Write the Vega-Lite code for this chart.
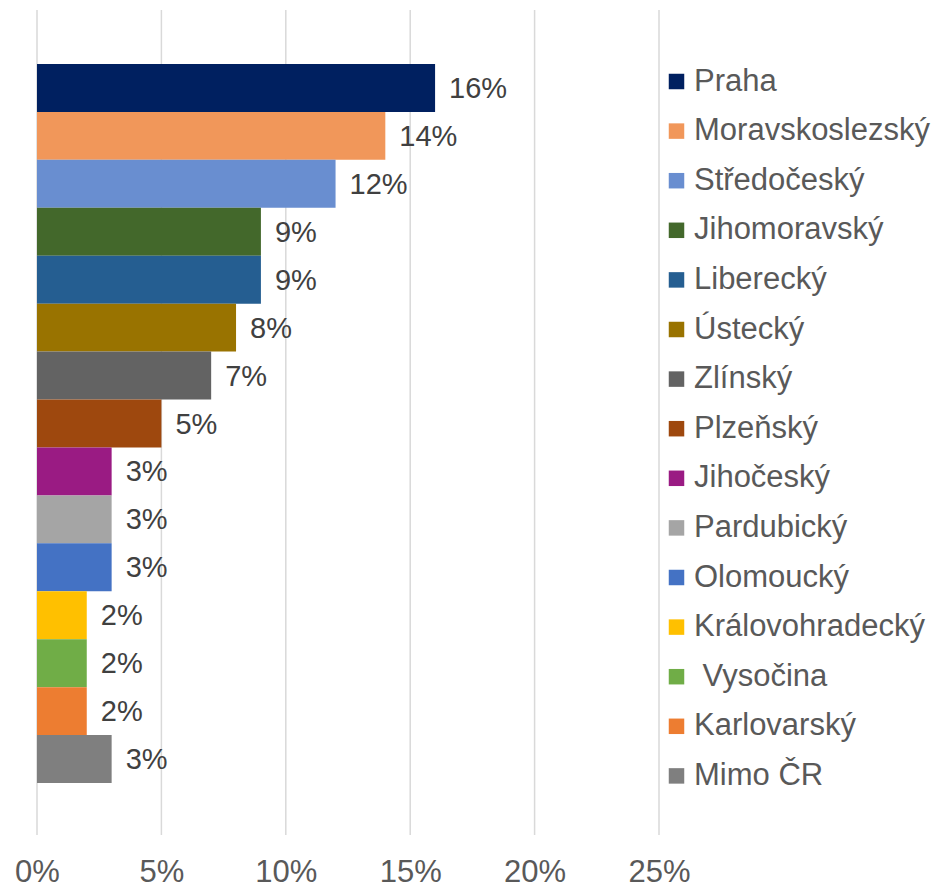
{
  "$schema": "https://vega.github.io/schema/vega-lite/v6.json",
  "autosize": "none",
  "width": 622,
  "height": 825,
  "padding": {"left": 37, "top": 10, "right": 282, "bottom": 52},
  "background": "white",
  "config": {
    "view": {"stroke": null},
    "font": "Liberation Sans"
  },
  "data": {
    "values": [
      {"kraj": "Praha", "podil": 0.16},
      {"kraj": "Moravskoslezský", "podil": 0.14},
      {"kraj": "Středočeský", "podil": 0.12},
      {"kraj": "Jihomoravský", "podil": 0.09},
      {"kraj": "Liberecký", "podil": 0.09},
      {"kraj": "Ústecký", "podil": 0.08},
      {"kraj": "Zlínský", "podil": 0.07},
      {"kraj": "Plzeňský", "podil": 0.05},
      {"kraj": "Jihočeský", "podil": 0.03},
      {"kraj": "Pardubický", "podil": 0.03},
      {"kraj": "Olomoucký", "podil": 0.03},
      {"kraj": "Královohradecký", "podil": 0.02},
      {"kraj": "\u200b Vysočina", "podil": 0.02},
      {"kraj": "Karlovarský", "podil": 0.02},
      {"kraj": "Mimo ČR", "podil": 0.03}
    ]
  },
  "encoding": {
    "x": {
      "field": "podil",
      "type": "quantitative",
      "scale": {"domain": [0, 0.25], "nice": false},
      "axis": {
        "values": [0, 0.05, 0.1, 0.15, 0.2, 0.25],
        "format": ".0%",
        "title": null,
        "domain": false,
        "ticks": false,
        "grid": false,
        "labelFlush": false,
        "labelFontSize": 31,
        "labelColor": "#595959",
        "labelPadding": 22,
        "labelFont": "Liberation Sans"
      }
    }
  },
  "layer": [
    {
      "data": {"values": [{"podil": 0}, {"podil": 0.05}, {"podil": 0.1}, {"podil": 0.15}, {"podil": 0.2}, {"podil": 0.25}]},
      "mark": {"type": "rule", "color": "#d9d9d9", "strokeWidth": 1.5},
      "encoding": {}
    },
    {
      "mark": {"type": "bar"},
      "encoding": {
        "y": {
          "field": "kraj",
          "type": "nominal",
          "sort": null,
          "scale": {"paddingInner": 0, "paddingOuter": 0, "range": [54, 773]},
          "axis": null
        },
        "color": {
          "field": "kraj",
          "type": "nominal",
          "sort": null,
          "scale": {
            "domain": ["Praha", "Moravskoslezský", "Středočeský", "Jihomoravský", "Liberecký", "Ústecký", "Zlínský", "Plzeňský", "Jihočeský", "Pardubický", "Olomoucký", "Královohradecký", "\u200b Vysočina", "Karlovarský", "Mimo ČR"],
            "range": ["#002060", "#F1975A", "#698ED0", "#43682B", "#255E91", "#997300", "#636363", "#9E480E", "#9A1B83", "#A5A5A5", "#4472C4", "#FFC000", "#70AD47", "#ED7D31", "#7F7F7F"]
          },
          "legend": {
            "title": null,
            "orient": "none",
            "legendX": 624,
            "legendY": 56,
            "padding": 0,
            "symbolType": "square",
            "symbolSize": 240,
            "symbolStrokeWidth": 0,
            "labelFontSize": 31,
            "labelColor": "#595959",
            "labelFont": "Liberation Sans",
            "labelOffset": 2,
            "rowPadding": 17.6,
            "labelLimit": 400
          }
        }
      }
    },
    {
      "mark": {"type": "text", "align": "left", "baseline": "middle", "dx": 14, "dy": 1, "fontSize": 29, "color": "#404040", "font": "Liberation Sans"},
      "encoding": {
        "y": {"field": "kraj", "type": "nominal", "sort": null},
        "text": {"field": "podil", "type": "quantitative", "format": ".0%"}
      }
    }
  ]
}
